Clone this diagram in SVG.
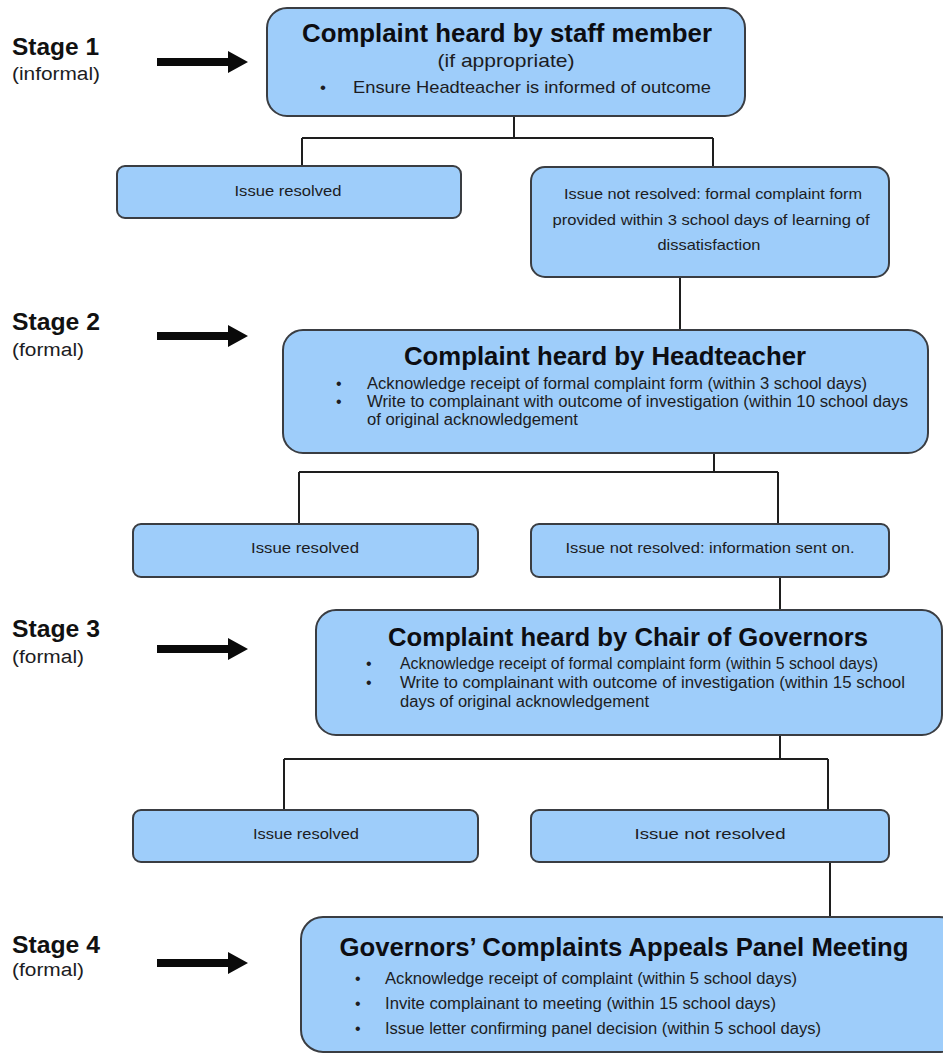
<svg xmlns="http://www.w3.org/2000/svg" width="943" height="1054" viewBox="0 0 943 1054">
<defs>
<style>
.box{fill:#9ecdfa;stroke:#3a3d42;stroke-width:2}
.ln{stroke:#1e1e1e;stroke-width:2;fill:none}
.arr{fill:#0a0a0a}
text{font-family:"Liberation Sans",Arial,sans-serif;fill:#1c1c22}
.st{font-size:23px;font-weight:bold;fill:#111}
.sub{font-size:18px}
.ti{font-size:25px;font-weight:bold;fill:#0d0d12}
.par{font-size:19px}
.b1{font-size:17px}
.bt{font-size:16px}
.sm{font-size:15px}
.c{text-anchor:middle}
</style>
</defs>
<rect width="943" height="1054" fill="#ffffff"/>

<g id="connectors">
<path class="ln" d="M514,116 V138 M302,138 H713 M302,138 V166 M713,138 V167"/>
<path class="ln" d="M680,277 V330"/>
<path class="ln" d="M714,453 V472 M299,472 H778 M299,472 V524 M778,472 V524"/>
<path class="ln" d="M780,577 V610"/>
<path class="ln" d="M780,735 V759 M284,759 H828 M284,759 V810 M828,759 V810"/>
<path class="ln" d="M830,862 V917"/>
</g>

<g id="stage1-label">
<text class="st" x="12" y="55" textLength="87" lengthAdjust="spacingAndGlyphs">Stage 1</text>
<text class="sub" x="12" y="80" textLength="88" lengthAdjust="spacingAndGlyphs">(informal)</text>
<polygon class="arr" points="157,58 228,58 228,51 248,62 228,73 228,66 157,66"/>
</g>
<g id="stage2-label">
<text class="st" x="12" y="330" textLength="88" lengthAdjust="spacingAndGlyphs">Stage 2</text>
<text class="sub" x="12" y="356" textLength="72" lengthAdjust="spacingAndGlyphs">(formal)</text>
<polygon class="arr" points="157,332 228,332 228,325 248,336 228,347 228,340 157,340"/>
</g>
<g id="stage3-label">
<text class="st" x="12" y="637" textLength="88" lengthAdjust="spacingAndGlyphs">Stage 3</text>
<text class="sub" x="12" y="663" textLength="72" lengthAdjust="spacingAndGlyphs">(formal)</text>
<polygon class="arr" points="157,645 228,645 228,638 248,649 228,660 228,653 157,653"/>
</g>
<g id="stage4-label">
<text class="st" x="12" y="953" textLength="88" lengthAdjust="spacingAndGlyphs">Stage 4</text>
<text class="sub" x="12" y="976" textLength="72" lengthAdjust="spacingAndGlyphs">(formal)</text>
<polygon class="arr" points="157,959 228,959 228,952 248,963 228,974 228,967 157,967"/>
</g>

<g id="s1">
<rect class="box" x="267" y="8" width="478" height="108" rx="20"/>
<text class="ti c" x="507" y="42" textLength="410" lengthAdjust="spacingAndGlyphs">Complaint heard by staff member</text>
<text class="par c" x="506" y="67" textLength="137" lengthAdjust="spacingAndGlyphs">(if appropriate)</text>
<text class="b1" x="320" y="93">•</text>
<text class="b1" x="353" y="93" textLength="358" lengthAdjust="spacingAndGlyphs">Ensure Headteacher is informed of outcome</text>
</g>

<g id="r1">
<rect class="box" x="117" y="166" width="344" height="52" rx="8"/>
<text class="sm c" x="288" y="196" textLength="107" lengthAdjust="spacingAndGlyphs">Issue resolved</text>
</g>

<g id="n1">
<rect class="box" x="531" y="167" width="358" height="110" rx="14"/>
<text class="sm c" x="713" y="199" textLength="298" lengthAdjust="spacingAndGlyphs">Issue not resolved: formal complaint form</text>
<text class="sm c" x="711" y="225" textLength="317" lengthAdjust="spacingAndGlyphs">provided within 3 school days of learning of</text>
<text class="sm c" x="709" y="250" textLength="103" lengthAdjust="spacingAndGlyphs">dissatisfaction</text>
</g>

<g id="s2">
<rect class="box" x="283" y="330" width="645" height="123" rx="20"/>
<text class="ti c" x="605" y="365" textLength="402" lengthAdjust="spacingAndGlyphs">Complaint heard by Headteacher</text>
<text class="bt" x="336" y="389">•</text>
<text class="bt" x="367" y="389" textLength="500" lengthAdjust="spacingAndGlyphs">Acknowledge receipt of formal complaint form (within 3 school days)</text>
<text class="bt" x="336" y="407">•</text>
<text class="bt" x="367" y="407" textLength="541" lengthAdjust="spacingAndGlyphs">Write to complainant with outcome of investigation (within 10 school days</text>
<text class="bt" x="367" y="425" textLength="211" lengthAdjust="spacingAndGlyphs">of original acknowledgement</text>
</g>

<g id="r2">
<rect class="box" x="133" y="524" width="345" height="53" rx="8"/>
<text class="sm c" x="305" y="553" textLength="108" lengthAdjust="spacingAndGlyphs">Issue resolved</text>
</g>

<g id="n2">
<rect class="box" x="531" y="524" width="358" height="53" rx="8"/>
<text class="sm c" x="710" y="553" textLength="289" lengthAdjust="spacingAndGlyphs">Issue not resolved: information sent on.</text>
</g>

<g id="s3">
<rect class="box" x="316" y="610" width="626" height="125" rx="20"/>
<text class="ti c" x="628" y="646" textLength="480" lengthAdjust="spacingAndGlyphs">Complaint heard by Chair of Governors</text>
<text class="bt" x="366" y="669">•</text>
<text class="bt" x="400" y="669" textLength="478" lengthAdjust="spacingAndGlyphs">Acknowledge receipt of formal complaint form (within 5 school days)</text>
<text class="bt" x="366" y="688">•</text>
<text class="bt" x="400" y="688" textLength="505" lengthAdjust="spacingAndGlyphs">Write to complainant with outcome of investigation (within 15 school</text>
<text class="bt" x="400" y="707" textLength="249" lengthAdjust="spacingAndGlyphs">days of original acknowledgement</text>
</g>

<g id="r3">
<rect class="box" x="133" y="810" width="345" height="52" rx="8"/>
<text class="sm c" x="306" y="839" textLength="106" lengthAdjust="spacingAndGlyphs">Issue resolved</text>
</g>

<g id="n3">
<rect class="box" x="531" y="810" width="358" height="52" rx="8"/>
<text class="sm c" x="710" y="839" textLength="151" lengthAdjust="spacingAndGlyphs">Issue not resolved</text>
</g>

<g id="s4">
<rect class="box" x="301" y="917" width="660" height="135" rx="22"/>
<text class="ti c" x="624" y="956" textLength="569" lengthAdjust="spacingAndGlyphs">Governors’ Complaints Appeals Panel Meeting</text>
<text class="bt" x="355" y="984">•</text>
<text class="bt" x="385" y="984" textLength="412" lengthAdjust="spacingAndGlyphs">Acknowledge receipt of complaint (within 5 school days)</text>
<text class="bt" x="355" y="1009">•</text>
<text class="bt" x="385" y="1009" textLength="391" lengthAdjust="spacingAndGlyphs">Invite complainant to meeting (within 15 school days)</text>
<text class="bt" x="355" y="1034">•</text>
<text class="bt" x="385" y="1034" textLength="436" lengthAdjust="spacingAndGlyphs">Issue letter confirming panel decision (within 5 school days)</text>
</g>
</svg>
